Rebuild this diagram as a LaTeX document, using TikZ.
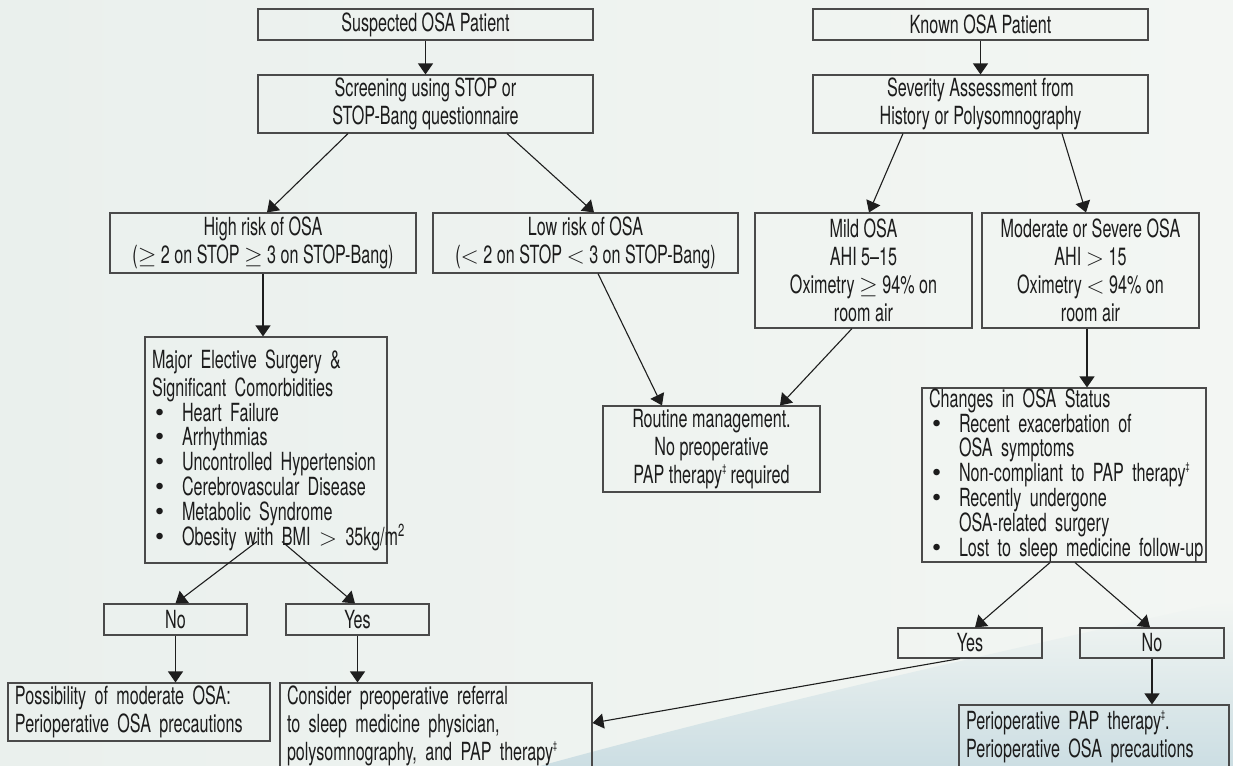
\documentclass[tikz,border=0pt]{standalone}
\usepackage{fontspec}
\setmainfont{TeX Gyre Heros}[FakeStretch=0.645]
\newfontfamily\bulfont{TeX Gyre Heros}
\usetikzlibrary{arrows.meta,calc}
\definecolor{bgleft}{HTML}{EAF0ED}
\definecolor{bgright}{HTML}{F3F6F3}
\definecolor{swoosh}{HTML}{CCDEE3}
\definecolor{boxline}{HTML}{4A4A4A}
\definecolor{arrline}{HTML}{1E1E1E}
\definecolor{ink}{HTML}{1C1C1C}
\newcommand\bul[1]{\mbox{\makebox[15pt][l]{\hspace{1.5pt}{\bulfont\fontsize{13}{12}\selectfont\textbullet}}#1}}
\newcommand\ind[1]{\mbox{\hspace*{15pt}#1}}
\newcommand\dg{\raisebox{0.45em}{\fontsize{5.5}{6}\selectfont\ddag}}
\newcommand\mrel[1]{\smash{$#1$}}
\begin{document}
\begin{tikzpicture}[x=0.5pt,y=-0.5pt,
  box/.style={draw=boxline, line width=0.55pt, inner sep=0pt, align=center, text=ink, font=\fontsize{12.5}{14}\selectfont},
  lbox/.style={box, inner xsep=3.5pt, align=left},
  arr/.style={draw=arrline, line width=0.55pt, -{Triangle[width=7.5pt,length=5.5pt]}}]
			\useasboundingbox (0,0) rectangle (1233,766);
			\shade[left color=bgleft, right color=bgright] (0,0) rectangle (1233,766);
			\shade[top color=bgright, bottom color=swoosh] (540,766) .. controls (780,700) and (1050,640) .. (1233,600) -- (1233,766) -- cycle;
			\node[box, minimum width=167.5pt, minimum height=15.5pt] (susp) at (425.5,24.5) {Suspected OSA Patient};
			\node[box, minimum width=167.5pt, minimum height=29pt] (screen) at (425.5,104) {Screening using STOP or\\STOP-Bang questionnaire};
			\node[box, minimum width=167.5pt, minimum height=15.5pt] (known) at (980.5,24.5) {Known OSA Patient};
			\node[box, minimum width=167.5pt, minimum height=29pt] (sever) at (980.5,104) {Severity Assessment from\\History or Polysomnography};
			\node[box, minimum width=153pt, minimum height=30pt] (high) at (263,243) {High risk of OSA\\(\mrel{\geq} 2 on STOP \mrel{\geq} 3 on STOP-Bang)};
			\node[box, minimum width=152.5pt, minimum height=30pt] (low) at (585.5,243) {Low risk of OSA\\(\mrel{<} 2 on STOP \mrel{<} 3 on STOP-Bang)};
			\node[box, minimum width=108.5pt, minimum height=57.5pt] (mild) at (863.5,270.5) {Mild OSA\\AHI 5–15\\Oximetry \mrel{\geq} 94\% on\\room air};
			\node[box, minimum width=108.5pt, minimum height=57.5pt] (mod) at (1090.5,270.5) {Moderate or Severe OSA\\AHI \mrel{>} 15\\Oximetry \mrel{<} 94\% on\\room air};
			\node[lbox, text width=114pt, minimum height=113pt] (major) at (266,450) {Major Elective Surgery \&\\Significant Comorbidities\\[-1.6pt]\bul{Heart Failure}\\[-1.6pt]\bul{Arrhythmias}\\[-1.6pt]\bul{Uncontrolled Hypertension}\\[-1.6pt]\bul{Cerebrovascular Disease}\\[-1.6pt]\bul{Metabolic Syndrome}\\[-1.6pt]\bul{Obesity with BMI \mrel{>} 35kg/m\textsuperscript{2}}};
			\node[box, minimum width=108.5pt, minimum height=43pt] (routine) at (711.5,449) {Routine management.\\No preoperative\\PAP therapy\dg{} required};
			\node[lbox, text width=135pt, minimum height=87pt] (changes) at (1064,475) {Changes in OSA Status\\[-1.6pt]\bul{Recent exacerbation of}\\[-1.6pt]\ind{OSA symptoms}\\[-1.6pt]\bul{Non-compliant to PAP therapy\dg}\\[-1.6pt]\bul{Recently undergone}\\[-1.6pt]\ind{OSA-related surgery}\\[-1.6pt]\bul{Lost to sleep medicine follow-up}};
			\node[box, minimum width=71.5pt, minimum height=15.5pt] (noA) at (175.5,619.5) {No};
			\node[box, minimum width=71.5pt, minimum height=15.5pt] (yesA) at (357.5,619.5) {Yes};
			\node[lbox, text width=124pt, minimum height=29pt] (poss) at (139,712) {Possibility of moderate OSA:\\Perioperative OSA precautions};
			\node[lbox, text width=149pt, minimum height=43pt] (consider) at (436,726) {Consider preoperative referral\\to sleep medicine physician,\\polysomnography, and PAP therapy\dg};
			\node[box, minimum width=72pt, minimum height=15pt] (yesB) at (970,643) {Yes};
			\node[box, minimum width=72pt, minimum height=15pt] (noB) at (1152,643) {No};
			\node[lbox, text width=128pt, minimum height=31.5pt] (periop) at (1094,736.5) {Perioperative PAP therapy\dg.\\Perioperative OSA precautions};
			\draw[arr] (susp) -- (screen);
			\draw[arr] (known) -- (sever);
			\draw[arr] ($(screen.south)+(-77.5,0)$) -- ($(high.north)+(4,0)$);
			\draw[arr] ($(screen.south)+(81.5,0)$) -- ($(low.north)+(8.5,0)$);
			\draw[arr] ($(sever.south)+(-77.5,0)$) -- ($(mild.north)+(5.5,0)$);
			\draw[arr] ($(sever.south)+(81.5,0)$) -- ($(mod.north)+(-4.5,0)$);
			\draw[arr] (high.south) -- (high.south |- major.north);
			\draw[arr] ($(low.south)+(12.5,0)$) -- ($(routine.north)+(-49.5,0)$);
			\draw[arr] ($(mild.south)+(-11.5,0)$) -- ($(routine.north)+(68.5,0)$);
			\draw[arr] ($(mod.south)+(-3.5,0)$) -- ($(mod.south |- changes.north)+(-3.5,0)$);
			\draw[arr] ($(major.south)+(-9,-22)$) -- (noA.north);
			\draw[arr] ($(major.south)+(16,-22)$) -- ($(yesA.north)+(-2.5,0)$);
			\draw[arr] (noA.south) -- (noA.south |- poss.north);
			\draw[arr] (yesA.south) -- (yesA.south |- consider.north);
			\draw[arr] ($(changes.south)+(-14,0)$) -- ($(yesB.north)+(5,0)$);
			\draw[arr] ($(changes.south)+(11,0)$) -- ($(noB.north)+(-2,0)$);
			\draw[arr] (noB.south) -- (noB.south |- periop.north);
			\draw[arr] ($(yesB.south)+(-10,0)$) -- ($(consider.east)+(0,-3)$);
		\end{tikzpicture}
\end{document}
